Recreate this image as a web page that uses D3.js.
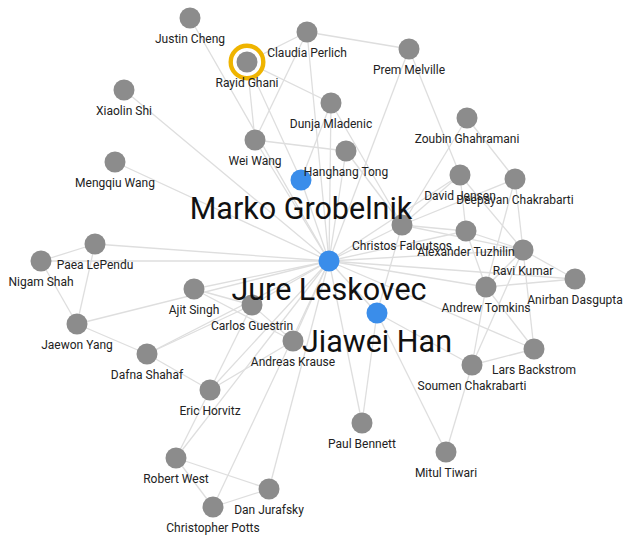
<!DOCTYPE html>
<html>
<head>
<meta charset="utf-8">
<script src="https://cdn.jsdelivr.net/npm/d3@7"></script>
<style>
  body { margin: 0; background: #fff; }
  svg { display: block; font-family: Roboto, "Noto Sans", sans-serif; }
</style>
</head>
<body>
<div id="chart"></div>
<script>
// Nodes of the network and their layout coordinates (layout units)
const names = [
  'Justin Cheng', 'Claudia Perlich', 'Rayid Ghani', 'Prem Melville', 'Xiaolin Shi',
  'Dunja Mladenic', 'Zoubin Ghahramani', 'Wei Wang', 'Hanghang Tong', 'Mengqiu Wang',
  'Marko Grobelnik', 'David Jensen', 'Deepayan Chakrabarti', 'Christos Faloutsos',
  'Alexander Tuzhilin', 'Paea LePendu', 'Nigam Shah', 'Ravi Kumar', 'Anirban Dasgupta',
  'Andrew Tomkins', 'Ajit Singh', 'Carlos Guestrin', 'Andreas Krause', 'Jaewon Yang',
  'Dafna Shahaf', 'Lars Backstrom', 'Soumen Chakrabarti', 'Eric Horvitz', 'Paul Bennett',
  'Mitul Tiwari', 'Robert West', 'Dan Jurafsky', 'Christopher Potts', 'Jiawei Han',
  'Jure Leskovec'
];
const layoutX = [
  190, 307, 247, 409, 124,
  331, 467, 255, 346, 115,
  301, 460, 515, 402,
  466, 95, 41, 523, 575,
  486, 194, 252, 293, 77,
  147, 534, 472, 210, 362,
  446, 176, 269, 213, 377,
  329
];
const layoutY = [
  18, 32, 62, 49, 90,
  103, 118, 140, 151, 162,
  180, 175, 179, 225,
  231, 244, 261, 250, 279,
  287, 289, 305, 341, 324,
  354, 349, 365, 390, 423,
  452, 458, 489, 507, 313,
  261
];

// Highlighted people (blue, big label) and the selected one (ring)
const featured = ['Marko Grobelnik', 'Jure Leskovec', 'Jiawei Han'];
const selected = 'Rayid Ghani';

// Co-author links
const links = [
  ['Jure Leskovec', 'Marko Grobelnik'], ['Jure Leskovec', 'Jiawei Han'],
  ['Jure Leskovec', 'Christos Faloutsos'], ['Jure Leskovec', 'Hanghang Tong'],
  ['Jure Leskovec', 'Wei Wang'], ['Jure Leskovec', 'Dunja Mladenic'],
  ['Jure Leskovec', 'Claudia Perlich'], ['Jure Leskovec', 'Prem Melville'],
  ['Jure Leskovec', 'Justin Cheng'], ['Jure Leskovec', 'Xiaolin Shi'],
  ['Jure Leskovec', 'Mengqiu Wang'], ['Jure Leskovec', 'Paea LePendu'],
  ['Jure Leskovec', 'Nigam Shah'], ['Jure Leskovec', 'Jaewon Yang'],
  ['Jure Leskovec', 'Ajit Singh'], ['Jure Leskovec', 'Carlos Guestrin'],
  ['Jure Leskovec', 'Dafna Shahaf'], ['Jure Leskovec', 'Andreas Krause'],
  ['Jure Leskovec', 'Eric Horvitz'], ['Jure Leskovec', 'Robert West'],
  ['Jure Leskovec', 'Dan Jurafsky'], ['Jure Leskovec', 'Christopher Potts'],
  ['Jure Leskovec', 'Paul Bennett'], ['Jure Leskovec', 'Lars Backstrom'],
  ['Jure Leskovec', 'Andrew Tomkins'], ['Jure Leskovec', 'Ravi Kumar'],
  ['Jure Leskovec', 'Anirban Dasgupta'], ['Jure Leskovec', 'Alexander Tuzhilin'],
  ['Jure Leskovec', 'David Jensen'],
  ['Rayid Ghani', 'Claudia Perlich'], ['Rayid Ghani', 'Wei Wang'],
  ['Rayid Ghani', 'Dunja Mladenic'], ['Rayid Ghani', 'Marko Grobelnik'],
  ['Claudia Perlich', 'Prem Melville'], ['Claudia Perlich', 'Wei Wang'],
  ['Prem Melville', 'David Jensen'],
  ['Dunja Mladenic', 'Marko Grobelnik'], ['Dunja Mladenic', 'Christos Faloutsos'],
  ['Wei Wang', 'Hanghang Tong'], ['Hanghang Tong', 'Christos Faloutsos'],
  ['Zoubin Ghahramani', 'Christos Faloutsos'], ['Zoubin Ghahramani', 'Deepayan Chakrabarti'],
  ['David Jensen', 'Christos Faloutsos'], ['David Jensen', 'Alexander Tuzhilin'],
  ['David Jensen', 'Ravi Kumar'],
  ['Christos Faloutsos', 'Deepayan Chakrabarti'], ['Christos Faloutsos', 'Alexander Tuzhilin'],
  ['Christos Faloutsos', 'Ravi Kumar'], ['Christos Faloutsos', 'Jiawei Han'],
  ['Deepayan Chakrabarti', 'Ravi Kumar'], ['Deepayan Chakrabarti', 'Andrew Tomkins'],
  ['Alexander Tuzhilin', 'Ravi Kumar'], ['Alexander Tuzhilin', 'Andrew Tomkins'],
  ['Ravi Kumar', 'Andrew Tomkins'], ['Ravi Kumar', 'Anirban Dasgupta'],
  ['Ravi Kumar', 'Lars Backstrom'], ['Ravi Kumar', 'Soumen Chakrabarti'],
  ['Andrew Tomkins', 'Anirban Dasgupta'], ['Andrew Tomkins', 'Lars Backstrom'],
  ['Andrew Tomkins', 'Soumen Chakrabarti'],
  ['Soumen Chakrabarti', 'Lars Backstrom'], ['Soumen Chakrabarti', 'Mitul Tiwari'],
  ['Jiawei Han', 'Soumen Chakrabarti'], ['Jiawei Han', 'Paul Bennett'],
  ['Jiawei Han', 'Mitul Tiwari'],
  ['Paea LePendu', 'Nigam Shah'], ['Paea LePendu', 'Jaewon Yang'],
  ['Nigam Shah', 'Jaewon Yang'], ['Jaewon Yang', 'Dafna Shahaf'],
  ['Dafna Shahaf', 'Carlos Guestrin'], ['Dafna Shahaf', 'Eric Horvitz'],
  ['Ajit Singh', 'Carlos Guestrin'], ['Ajit Singh', 'Andreas Krause'],
  ['Carlos Guestrin', 'Andreas Krause'], ['Carlos Guestrin', 'Eric Horvitz'],
  ['Andreas Krause', 'Eric Horvitz'], ['Eric Horvitz', 'Robert West'],
  ['Robert West', 'Dan Jurafsky'], ['Robert West', 'Christopher Potts'],
  ['Dan Jurafsky', 'Christopher Potts']
];

const WIDTH = 624;
const HEIGHT = 535;
const RADIUS = 10.5;

const nodes = names.map((name, i) => ({ name: name, x: layoutX[i], y: layoutY[i] }));
const byName = new Map(nodes.map(d => [d.name, d]));

const xScale = d3.scaleLinear().domain([0, 624]).range([0, WIDTH]);
const yScale = d3.scaleLinear().domain([0, 535]).range([0, HEIGHT]);

const svg = d3.select('#chart')
              .append('svg')
              .attr('width', WIDTH)
              .attr('height', HEIGHT);

// Links
svg.append('g')
   .selectAll('line')
   .data(links)
   .enter()
   .append('line')
   .attr('x1', d => xScale(byName.get(d[0]).x))
   .attr('y1', d => yScale(byName.get(d[0]).y))
   .attr('x2', d => xScale(byName.get(d[1]).x))
   .attr('y2', d => yScale(byName.get(d[1]).y))
   .attr('stroke', '#dedede')
   .attr('stroke-width', 1.3);

// Ring round the selected person
const sel = byName.get(selected);
svg.append('circle')
   .attr('cx', xScale(sel.x))
   .attr('cy', yScale(sel.y))
   .attr('r', 16.3)
   .attr('fill', '#fff')
   .attr('stroke', '#efb400')
   .attr('stroke-width', 4.4);

// Nodes
svg.append('g')
   .selectAll('circle')
   .data(nodes)
   .enter()
   .append('circle')
   .attr('cx', d => xScale(d.x))
   .attr('cy', d => yScale(d.y))
   .attr('r', RADIUS)
   .attr('fill', d => featured.includes(d.name) ? '#3a8dea' : '#8c8c8c');

// Labels
svg.append('g')
   .selectAll('text')
   .data(nodes)
   .enter()
   .append('text')
   .attr('x', d => xScale(d.x))
   .attr('y', d => yScale(d.y) + (featured.includes(d.name) ? 39 : 25))
   .attr('text-anchor', 'middle')
   .attr('font-size', d => featured.includes(d.name) ? 30.5 : 12)
   .attr('fill', d => featured.includes(d.name) ? '#111' : '#222')
   .text(d => d.name);
</script>
</body>
</html>
